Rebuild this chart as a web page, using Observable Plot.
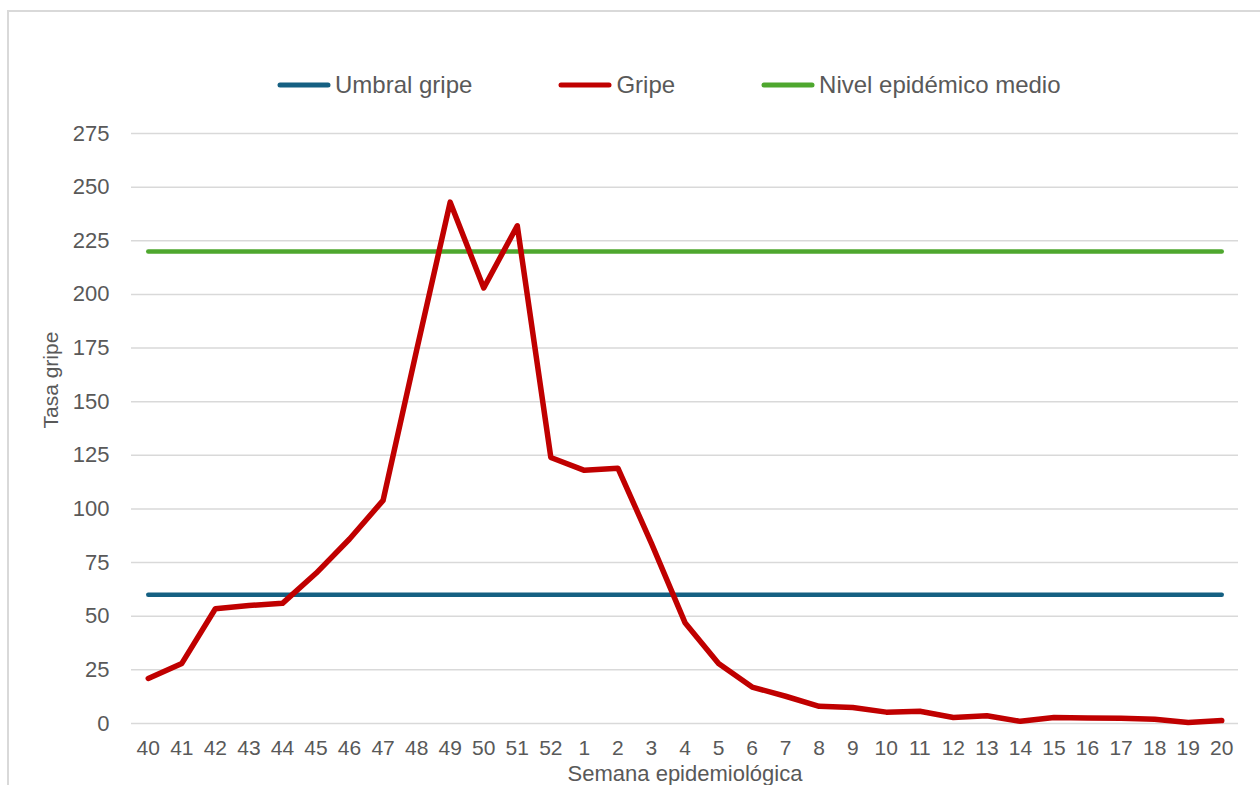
<!DOCTYPE html>
<html>
<head>
<meta charset="utf-8">
<script src="https://cdn.jsdelivr.net/npm/d3@7"></script>
<script src="https://cdn.jsdelivr.net/npm/@observablehq/plot@0.6"></script>
<style>
  html, body { margin: 0; padding: 0; background: #fff; }
  body { width: 1260px; height: 785px; overflow: hidden; position: relative; font-family: "Liberation Sans", Arial, sans-serif; }
  #frame { position: absolute; left: 7px; top: 10px; width: 1300px; height: 820px; border: 2px solid #d9d9d9; box-sizing: border-box; }
  #legend { position: absolute; left: 277px; top: 70px; height: 30px; display: flex; align-items: center; gap: 86px; color: #595959; font-size: 24px; }
  .item { display: flex; align-items: center; white-space: nowrap; }
  .item svg { margin-right: 4px; }
  #chart { position: absolute; left: 0; top: 100px; }
</style>
</head>
<body>
<div id="frame"></div>
<div id="legend"></div>
<div id="chart"></div>
<script>
// ---- data ----
const weeks = ["40","41","42","43","44","45","46","47","48","49","50","51","52",
  "1","2","3","4","5","6","7","8","9","10","11","12","13","14","15","16","17","18","19","20"];
const gripe = [21, 28, 53.5, 55, 56, 70, 86, 104, 174, 243, 203, 232, 124,
  118, 119, 84, 47, 28, 17, 12.7, 8, 7.5, 5.3, 5.7, 2.8, 3.6, 1, 2.8, 2.6, 2.4, 2, 0.5, 1.4];
const umbralGripe = 60;
const nivelEpidemicoMedio = 220;
const yTicks = [0, 25, 50, 75, 100, 125, 150, 175, 200, 225, 250, 275];
const seriesNames = ["Umbral gripe", "Gripe", "Nivel epidémico medio"];
const seriesColors = ["#156082", "#C00000", "#4EA72E"];

const rows = weeks.map((w, i) => ({week: w, gripe: gripe[i], umbral: umbralGripe, nivel: nivelEpidemicoMedio}));

// ---- legend ----
const legend = document.getElementById("legend");
seriesNames.forEach((name, i) => {
  const item = document.createElement("div");
  item.className = "item";
  item.innerHTML = `<svg width="54" height="10"><line x1="3" y1="5" x2="51" y2="5" stroke="${seriesColors[i]}" stroke-width="5" stroke-linecap="round"/></svg><span>${name}</span>`;
  legend.appendChild(item);
});

// ---- chart ----
const textColor = "#595959";
const chart = Plot.plot({
  width: 1260,
  height: 685,
  marginLeft: 131,
  marginRight: 22,
  marginTop: 33,
  marginBottom: 62,
  style: {fontFamily: "'Liberation Sans', Arial, sans-serif", color: textColor, background: "transparent", overflow: "visible"},
  x: {type: "point", domain: weeks, padding: 0.5, round: false, label: null},
  y: {domain: [0, 275], label: null},
  marks: [
    Plot.gridY(yTicks, {stroke: "#d9d9d9", strokeOpacity: 1, strokeWidth: 1.5}),
    Plot.axisY(yTicks, {tickSize: 0, tickPadding: 22, fontSize: 22, fill: textColor, label: null}),
    Plot.axisX(weeks, {tickSize: 0, tickPadding: 17, fontSize: 21, fill: textColor, label: null}),
    Plot.text(["Tasa gripe"], {frameAnchor: "left", dx: -80, rotate: -90, fontSize: 21, fill: textColor}),
    Plot.text(["Semana epidemiológica"], {frameAnchor: "bottom", dy: 57, fontSize: 22, fill: textColor}),
    Plot.lineY(rows, {x: "week", y: "umbral", stroke: seriesColors[0], strokeWidth: 4.5, strokeLinecap: "round"}),
    Plot.lineY(rows, {x: "week", y: "nivel", stroke: seriesColors[2], strokeWidth: 4.5, strokeLinecap: "round"}),
    Plot.lineY(rows, {x: "week", y: "gripe", stroke: seriesColors[1], strokeWidth: 5.5, strokeLinecap: "round", strokeLinejoin: "round"})
  ]
});
document.getElementById("chart").appendChild(chart);
</script>
</body>
</html>
